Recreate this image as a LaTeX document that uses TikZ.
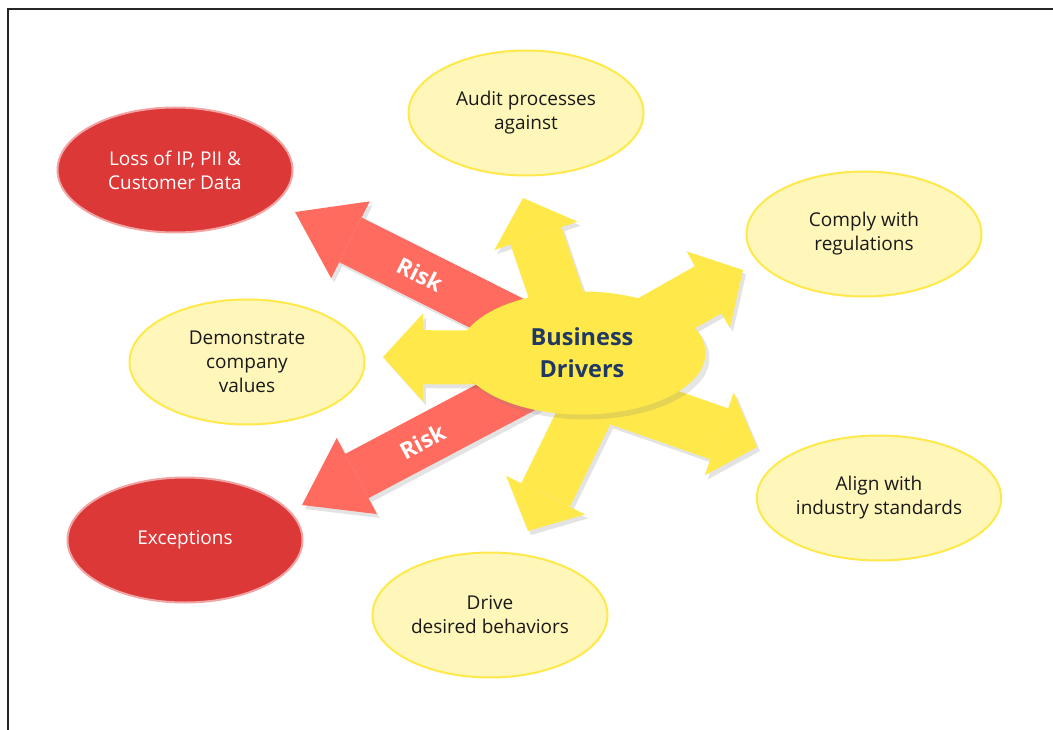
\documentclass[tikz,border=0pt]{standalone}
\usepackage{fontspec}
\setmainfont{Open Sans}
\usetikzlibrary{arrows.meta,shapes.geometric,shadows}

\definecolor{bizyellow}{HTML}{FFE94A}
\definecolor{paleyellow}{HTML}{FFF7BA}
\definecolor{riskred}{HTML}{FF6B5F}
\definecolor{lossred}{HTML}{DC3838}
\definecolor{lossrim}{HTML}{F2A3A3}
\definecolor{hubnavy}{HTML}{1F3864}

\begin{document}
\begin{tikzpicture}[
    x=1pt, y=-1pt,
    goal/.style={ellipse, draw=bizyellow, line width=2pt, fill=paleyellow, minimum width=235pt, minimum height=125pt, align=center, text=black!90, font=\fontsize{19}{24}\selectfont},
    threat/.style={ellipse, draw=lossrim, line width=2pt, fill=lossred, minimum width=235pt, minimum height=125pt, align=center, text=white, font=\fontsize{19}{24}\selectfont},
    hubstyle/.style={ellipse, fill=bizyellow, minimum width=247pt, minimum height=123pt, align=center, text=hubnavy, font=\bfseries\fontsize{23.5}{32}\selectfont, drop shadow={shadow xshift=4pt, shadow yshift=-5pt, opacity=0.2}},
    yarr/.style={line width=54pt, draw=bizyellow, -{Triangle[width=88pt, length=40pt, line width=0pt]}},
    rarr/.style={line width=50pt, draw=riskred, -{Triangle[width=86pt, length=62pt, line width=0pt]}},
    shade/.style={draw=black, transform canvas={shift={(3pt,-4pt)}}},
    risklabel/.style={sloped, text=white, font=\bfseries\fontsize{23}{26}\selectfont},
    frame/.style={draw=black!85, line width=1.2pt}
]
\useasboundingbox (0,0) rectangle (1053,730);
\draw[frame] (1053,9) -- (8,9) -- (8,730);

% arrow ends
\coordinate (upfrom) at (576,353);      \coordinate (uptip) at (523,198);
\coordinate (urfrom) at (582,361);      \coordinate (urtip) at (743,270);
\coordinate (drfrom) at (582,386);      \coordinate (drtip) at (757,447);
\coordinate (dnfrom) at (615,353);      \coordinate (dntip) at (528,531);
\coordinate (lffrom) at (582,358);      \coordinate (lftip) at (383,357);
\coordinate (lossfrom) at (582,356);    \coordinate (losstip) at (295,212);
\coordinate (excfrom) at (582,357);     \coordinate (exctip) at (302,505);

% risk arrows
\begin{scope}[transparency group, opacity=0.11]
\draw[rarr, shade] (lossfrom) -- (losstip);
\draw[rarr, shade] (excfrom) -- (exctip);
\end{scope}
\draw[rarr] (lossfrom) -- node[risklabel, pos=0.565] (riskup) {Risk} (losstip);
\draw[rarr] (excfrom) -- node[risklabel, pos=0.57] (riskdown) {Risk} (exctip);

% driver arrows
\begin{scope}[transparency group, opacity=0.11]
\draw[yarr, shade] (upfrom) -- (uptip);
\draw[yarr, shade] (urfrom) -- (urtip);
\draw[yarr, shade] (drfrom) -- (drtip);
\draw[yarr, shade] (dnfrom) -- (dntip);
\draw[yarr, shade] (lffrom) -- (lftip);
\end{scope}
\draw[yarr] (upfrom) -- (uptip);
\draw[yarr] (urfrom) -- (urtip);
\draw[yarr] (drfrom) -- (drtip);
\draw[yarr] (dnfrom) -- (dntip);
\draw[yarr] (lffrom) -- (lftip);

\node[hubstyle] (hub) at (582,353) {Business\\Drivers};

\node[goal] (audit) at (526,113) {Audit processes\\against};
\node[goal] (comply) at (864,234) {Comply with\\regulations};
\node[goal] (align) at (879,498) {Align with\\industry standards};
\node[goal] (drive) at (490,615) {Drive\\desired behaviors};
\node[goal] (values) at (247,362) {Demonstrate\\company\\values};

\node[threat] (loss) at (175,170) {Loss of IP, PII \&\\Customer Data};
\node[threat] (except) at (185,540) {Exceptions};

\end{tikzpicture}
\end{document}
